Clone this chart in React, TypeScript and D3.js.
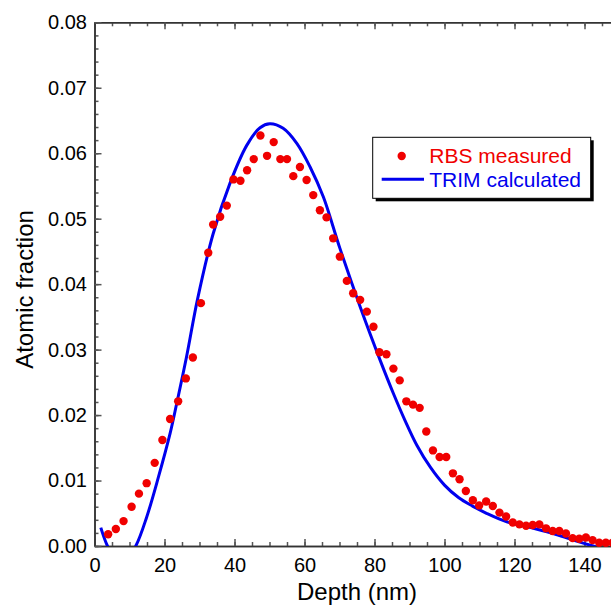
import React, { useEffect, useRef } from 'react';
import * as d3 from 'd3';

// RBS measured points (depth in nm, atomic fraction)
const rbsDepth = [3.9, 6.1, 8.3, 10.6, 12.7, 14.9, 17.2, 19.4, 21.6, 23.9, 26.1, 28.1, 30.4, 32.5, 33.9, 35.9, 37.8, 39.7, 41.7, 43.6,
  45.5, 47.4, 49.3, 51.2, 53.1, 55.0, 56.8, 58.7, 60.6, 62.5, 64.4, 66.3, 68.2, 70.1, 72.1, 73.9, 75.9, 77.8, 79.7, 81.4,
  83.4, 85.4, 87.2, 89.1, 91.0, 92.9, 94.8, 96.7, 98.6, 100.5, 102.4, 104.3, 106.1, 108.1, 109.9, 111.9, 113.8, 115.7, 117.6, 119.5,
  121.4, 123.3, 125.2, 127.1, 129.0, 130.9, 132.8, 134.7, 136.6, 138.5, 140.4, 142.3, 144.2, 146.1, 148.0];
const rbsFrac = [0.0018, 0.0026, 0.0038, 0.0060, 0.0080, 0.0096, 0.0127, 0.0162, 0.0194, 0.0221, 0.0256, 0.0288, 0.0371, 0.0448, 0.0491, 0.0503, 0.0520, 0.0560, 0.0558, 0.0574,
  0.0591, 0.0627, 0.0596, 0.0617, 0.0591, 0.0591, 0.0565, 0.0579, 0.0559, 0.0536, 0.0513, 0.0502, 0.0470, 0.0442, 0.0405, 0.0386, 0.0376, 0.0358, 0.0335, 0.0296,
  0.0293, 0.0271, 0.0253, 0.0221, 0.0216, 0.0211, 0.0175, 0.0146, 0.0136, 0.0136, 0.0111, 0.0102, 0.0084, 0.0070, 0.0062, 0.0068, 0.0061, 0.0051, 0.0045, 0.0036,
  0.0033, 0.0031, 0.0032, 0.0033, 0.0027, 0.0023, 0.0023, 0.0019, 0.0012, 0.0011, 0.0013, 0.0009, 0.0005, 0.0005, 0.0005];

// TRIM calculated curve (goes below zero, clipped at the axis)
const trimDepth = [1.8, 3.7, 7.5, 11.8, 14.9, 18.2, 21.6, 23.5, 26.3, 29.4, 33.9, 38.7, 43.5, 47.3, 50.1, 53.9, 57.8, 61.6, 65.4, 70.1,
  76.0, 81.6, 85.4, 88.7, 92.1, 96.0, 100.0, 104.0, 108.0, 112.0, 117.8, 125.4, 131.1, 136.8, 142.5, 148];
const trimFrac = [0.0028, 0.0, -0.0035, 0.0, 0.0044, 0.0104, 0.0172, 0.0218, 0.0289, 0.0376, 0.0477, 0.0554, 0.0612, 0.0639, 0.0645, 0.0638, 0.0615, 0.0579, 0.0533, 0.0455,
  0.0364, 0.0284, 0.0233, 0.0192, 0.0154, 0.0120, 0.0093, 0.0074, 0.0061, 0.0050, 0.0037, 0.0027, 0.0019, 0.0009, 0.0, -0.0008];

const xTicks = [0, 20, 40, 60, 80, 100, 120, 140];
const yTicks = [0, 0.01, 0.02, 0.03, 0.04, 0.05, 0.06, 0.07, 0.08];
const legendLabels = ['RBS measured', 'TRIM calculated'];

const W = 611, H = 606;
const left = 94.5, right = 619.5, top = 22.3, bottom = 546;
const font = '"Liberation Sans", Arial, sans-serif';
const red = '#f00000';
const blue = '#0000ee';

const App = () => {
  const svgRef = useRef<SVGSVGElement>(null);

  useEffect(() => {
    const svg = d3.select(svgRef.current);
    svg.selectAll('*').remove();

    const x = d3.scaleLinear().domain([0, 150]).range([left, right]);
    const y = d3.scaleLinear().domain([0, 0.08]).range([bottom, top]);

    const styleAxis = (g, showText) => {
      g.select('.domain').attr('stroke', '#333').attr('stroke-width', 1.5);
      g.selectAll('.tick line').attr('stroke', '#555').attr('stroke-width', 1.5);
      g.selectAll('.tick text').attr('fill', '#000').style('display', showText ? null : 'none');
      g.attr('font-family', font);
    };

    // minor ticks
    svg.append('g').attr('transform', `translate(0,${bottom})`)
      .call(d3.axisBottom(x).tickValues(d3.range(0, 151, 5)).tickSizeInner(-4).tickSizeOuter(0).tickFormat(() => ''))
      .call(g => styleAxis(g, false));
    svg.append('g').attr('transform', `translate(0,${top})`)
      .call(d3.axisTop(x).tickValues(d3.range(0, 151, 5)).tickSizeInner(-4).tickSizeOuter(0).tickFormat(() => ''))
      .call(g => styleAxis(g, false));
    svg.append('g').attr('transform', `translate(${left},0)`)
      .call(d3.axisLeft(y).tickValues(d3.range(0, 0.0801, 0.002)).tickSizeInner(-4).tickSizeOuter(0).tickFormat(() => ''))
      .call(g => styleAxis(g, false));

    // major ticks
    svg.append('g').attr('transform', `translate(0,${bottom})`)
      .call(d3.axisBottom(x).tickValues(xTicks).tickSizeInner(-7).tickSizeOuter(0).tickPadding(12).tickFormat(d3.format('d')))
      .call(g => styleAxis(g, true))
      .attr('font-size', 20);
    svg.append('g').attr('transform', `translate(0,${top})`)
      .call(d3.axisTop(x).tickValues(xTicks).tickSizeInner(-7).tickSizeOuter(0).tickFormat(() => ''))
      .call(g => styleAxis(g, false));
    svg.append('g').attr('transform', `translate(${left},0)`)
      .call(d3.axisLeft(y).tickValues(yTicks).tickSizeInner(-7).tickSizeOuter(0).tickPadding(7.5).tickFormat(d3.format('.2f')))
      .call(g => styleAxis(g, true))
      .attr('font-size', 20);

    // axis titles
    svg.append('text').attr('x', (left + right) / 2).attr('y', 600)
      .attr('text-anchor', 'middle').attr('font-family', font).attr('font-size', 24)
      .text('Depth (nm)');
    svg.append('text').attr('transform', 'translate(33,289.5) rotate(-90)')
      .attr('text-anchor', 'middle').attr('font-family', font).attr('font-size', 24)
      .text('Atomic fraction');

    // clip for the calculated curve
    svg.append('clipPath').attr('id', 'plotClip')
      .append('rect').attr('x', left).attr('y', top).attr('width', right - left).attr('height', bottom - top);

    const line = d3.line<number>()
      .x((d, i) => x(trimDepth[i]))
      .y(d => y(d))
      .curve(d3.curveCatmullRom.alpha(0.5));

    svg.append('path')
      .datum(trimFrac)
      .attr('clip-path', 'url(#plotClip)')
      .attr('d', line)
      .attr('fill', 'none')
      .attr('stroke', blue)
      .attr('stroke-width', 3);

    svg.append('g').selectAll('circle')
      .data(rbsFrac)
      .enter()
      .append('circle')
      .attr('cx', (d, i) => x(rbsDepth[i]))
      .attr('cy', d => y(d))
      .attr('r', 4.2)
      .attr('fill', red);

    // legend
    const lg = svg.append('g');
    lg.append('rect').attr('x', 375.7).attr('y', 140.3).attr('width', 218).attr('height', 61).attr('fill', '#000');
    lg.append('rect').attr('x', 372.7).attr('y', 137.3).attr('width', 218).attr('height', 61)
      .attr('fill', '#fff').attr('stroke', '#000').attr('stroke-width', 1);
    lg.append('circle').attr('cx', 401.7).attr('cy', 156).attr('r', 4.2).attr('fill', red);
    lg.append('line').attr('x1', 381.7).attr('x2', 424).attr('y1', 179.3).attr('y2', 179.3)
      .attr('stroke', blue).attr('stroke-width', 3);
    lg.append('text').attr('x', 429.3).attr('y', 163.3).attr('font-family', font).attr('font-size', 21)
      .attr('fill', red).text(legendLabels[0]);
    lg.append('text').attr('x', 429.3).attr('y', 186.7).attr('font-family', font).attr('font-size', 21)
      .attr('fill', blue).text(legendLabels[1]);
  }, []);

  return (
    <svg ref={svgRef} width={W} height={H}
      style={{ position: 'absolute', left: 0, top: 0, background: '#fff' }} />
  );
};

export default App;
